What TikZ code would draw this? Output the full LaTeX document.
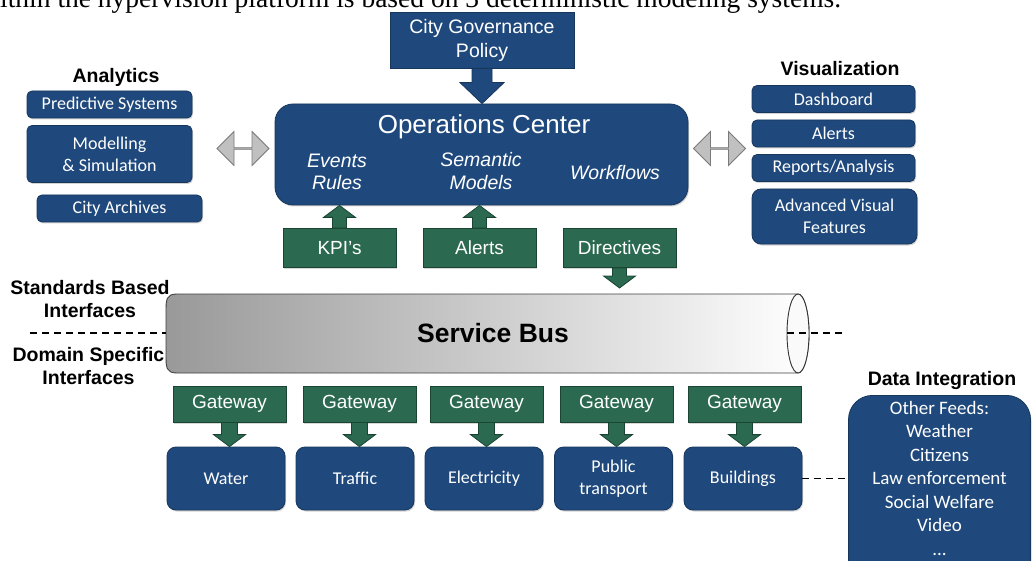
\documentclass[tikz,border=0pt]{standalone}
\usepackage{fontspec}
\setmainfont{Liberation Sans}
\newfontfamily\calfont{Carlito}
\newfontfamily\serfont{Liberation Serif}
\usetikzlibrary{shapes.arrows,calc,shadows}
\definecolor{dblue}{HTML}{1F497D}
\definecolor{dblueedge}{HTML}{16365C}
\definecolor{dgreen}{HTML}{2B6A50}
\definecolor{dgreenedge}{HTML}{1B4533}
\definecolor{agray}{HTML}{C0C0C0}
\definecolor{agrayedge}{HTML}{7A7A7A}
% vertical block arrow: #1 style, #2 shaft half width, #3 head half width, #4 head height, #5 from, #6 to
\newcommand\blockarrow[6]{%
  \filldraw[#1] let \p1=(#5), \p2=(#6), \n1={sign(\y2-\y1)} in
    (\x1-#2,\y1) -- (\x1-#2,\y2-\n1*#4) -- (\x1-#3,\y2-\n1*#4) -- (\x1,\y2)
    -- (\x1+#3,\y2-\n1*#4) -- (\x1+#2,\y2-\n1*#4) -- (\x1+#2,\y1) -- cycle;}
\begin{document}
\begin{tikzpicture}[x=1pt,y=-1pt,
  bluebox/.style={fill=dblue, draw=dblueedge, line width=0.8pt, rounded corners=5pt, text=white,
    font=\calfont\fontsize{18}{22}\selectfont, align=center, inner sep=0pt,
    drop shadow={opacity=0.35, shadow xshift=1pt, shadow yshift=-1.5pt}},
  greenbox/.style={fill=dgreen, draw=dgreenedge, line width=1pt, text=white,
    font=\fontsize{19}{22}\selectfont, align=center, inner sep=0pt,
    drop shadow={opacity=0.3, shadow xshift=1pt, shadow yshift=-1.5pt}},
  header/.style={font=\bfseries\fontsize{19.5}{23}\selectfont, align=center, inner sep=0pt},
  opstext/.style={text=white, font=\itshape\fontsize{19.5}{22.5}\selectfont, align=center, inner sep=0pt},
  garrow/.style={fill=dgreen, draw=dgreenedge, line width=0.8pt},
  barrow/.style={fill=dblue, draw=dblueedge, line width=0.8pt},
  darrow/.style={double arrow, fill=agray, draw=agrayedge, line width=0.8pt,
    minimum width=34pt, double arrow head extend=8pt, inner sep=0pt, minimum height=52pt,
    double arrow tip angle=90},
  dashline/.style={dashed, dash pattern=on 7pt off 5pt, line width=1.5pt},
]
\clip (0,0) rectangle (1032,561);
\fill[white] (0,0) rectangle (1032,561);

% partial caption line at the top
\node[anchor=base west, inner sep=0pt, font=\serfont\fontsize{27.5}{30}\selectfont] (cap) at (0,7.5)
  {ithin the hypervision platform is based on 3 deterministic modeling systems.};

% City governance
\node[fill=dblue, draw=dblueedge, line width=0.8pt, text=white, font=\fontsize{19.5}{24}\selectfont,
  align=center, inner sep=0pt, minimum width=184pt, minimum height=56pt,
  drop shadow={opacity=0.35, shadow xshift=1pt, shadow yshift=-1.5pt}] (gov) at (482,40)
  {City Governance\\Policy};

% Operations center
\node[bluebox, rounded corners=18pt, minimum width=413pt, minimum height=101pt] (ops) at (481.5,154.5) {};
\node[text=white, font=\fontsize{26}{30}\selectfont, inner sep=0pt] (opstitle) at (484,127) {Operations Center};
\node[opstext] (ev) at (337,172) {Events\\Rules};
\node[opstext] (sem) at (481,171) {Semantic\\Models};
\node[opstext] (wf) at (615,173) {Workflows};

\blockarrow{barrow}{10pt}{22pt}{21pt}{gov.south}{ops.north}

% Analytics
\node[header] (anl) at (116,77) {Analytics};
\node[bluebox, minimum width=165pt, minimum height=27pt] (pred) at (109.5,104.5) {Predictive Systems};
\node[bluebox, minimum width=165pt, minimum height=57pt] (model) at (109.5,154) {Modelling\\\& Simulation};
\node[bluebox, minimum width=165pt, minimum height=27pt] (arch) at (119.5,208.5) {City Archives};
\node[darrow] (la) at (243,148.5) {};

% Visualization
\node[header] (vis) at (840,69) {Visualization};
\node[bluebox, minimum width=163pt, minimum height=27pt] (dash) at (833.5,99) {Dashboard};
\node[bluebox, minimum width=163pt, minimum height=27pt] (valerts) at (833.5,133.5) {Alerts};
\node[bluebox, minimum width=163pt, minimum height=27pt] (rep) at (833.5,168) {Reports/Analysis};
\node[bluebox, rounded corners=9pt, minimum width=165pt, minimum height=55pt] (adv) at (834.5,216.5) {Advanced Visual\\Features};
\node[darrow] (ra) at (719.5,148.5) {};

% KPI, alerts, directives
\node[greenbox, minimum width=113pt, minimum height=39pt] (kpi) at (339.5,248) {KPI’s};
\node[greenbox, minimum width=113pt, minimum height=39pt] (galerts) at (479.5,248) {Alerts};
\node[greenbox, minimum width=113pt, minimum height=39pt] (dir) at (619.5,248) {Directives};
\coordinate (kpitip) at (kpi.north |- ops.south);
\coordinate (altip) at (galerts.north |- ops.south);
\coordinate (dirtip) at (619.5,288);
\blockarrow{garrow}{7pt}{16pt}{12pt}{kpi.north}{kpitip}
\blockarrow{garrow}{7pt}{16pt}{12pt}{galerts.north}{altip}
\blockarrow{garrow}{7pt}{16pt}{12pt}{dir.south}{dirtip}

% Interfaces labels
\node[header] (std) at (90,299) {Standards Based\\Interfaces};
\node[header] (dom) at (88.5,366) {Domain Specific\\Interfaces};

% Service bus cylinder
\shade[left color=gray!80, right color=white, draw=black!75, line width=0.9pt]
  (798,294) -- (177,294) .. controls (166,294) and (166,300) .. (166,312)
  -- (166,355) .. controls (166,367) and (166,373) .. (177,373) -- (798,373)
  arc[start angle=-90, end angle=90, x radius=11pt, y radius=39.5pt] -- cycle;
\draw[black!80, line width=0.9pt, fill=white!96!gray] (798,333.5) ellipse[x radius=11pt, y radius=39.5pt];
\node[font=\bfseries\fontsize{26.5}{30}\selectfont, inner sep=0pt] (bus) at (493,333) {Service Bus};
\coordinate (busL) at (166,333);
\coordinate (busR) at (787,333);
\coordinate (dl) at (30,333);
\coordinate (dr) at (842,333);
\draw[dashline] (dl) -- (busL);
\draw[dashline] (busR) -- (dr);

% Gateways and domains
\foreach \gx/\dx/\name/\lab [count=\i] in {229.5/226/water/Water, 359.5/355/traffic/Traffic, 486.5/484/elec/Electricity, 616.5/613.5/pt/{Public\\transport}, 744.5/743/bld/Buildings}{
  \node[greenbox, minimum width=113pt, minimum height=36pt] (gw\i) at (\gx,404) {Gateway};
  \node[bluebox, rounded corners=9pt, minimum width=118pt, minimum height=63pt] (\name) at (\dx,478.5) {\lab};
  \coordinate (gt\i) at (gw\i.south |- \name.north);
  \blockarrow{garrow}{8pt}{16pt}{12pt}{gw\i.south}{gt\i}
}

% Data integration
\node[header] (di) at (942,380) {Data Integration};
\node[bluebox, rounded corners=24pt, minimum width=182pt, minimum height=190pt, anchor=north] (feeds) at (939.5,395) {};
\node[text=white, font=\calfont\fontsize{19}{23.5}\selectfont, align=center, inner sep=0pt, anchor=north] (feedtext) at (939.5,401)
  {Other Feeds:\\Weather\\Citizens\\Law enforcement\\Social Welfare\\Video\\...};
\draw[dashline] (bld.east) -- (bld.east -| feeds.west);
\end{tikzpicture}
\end{document}
